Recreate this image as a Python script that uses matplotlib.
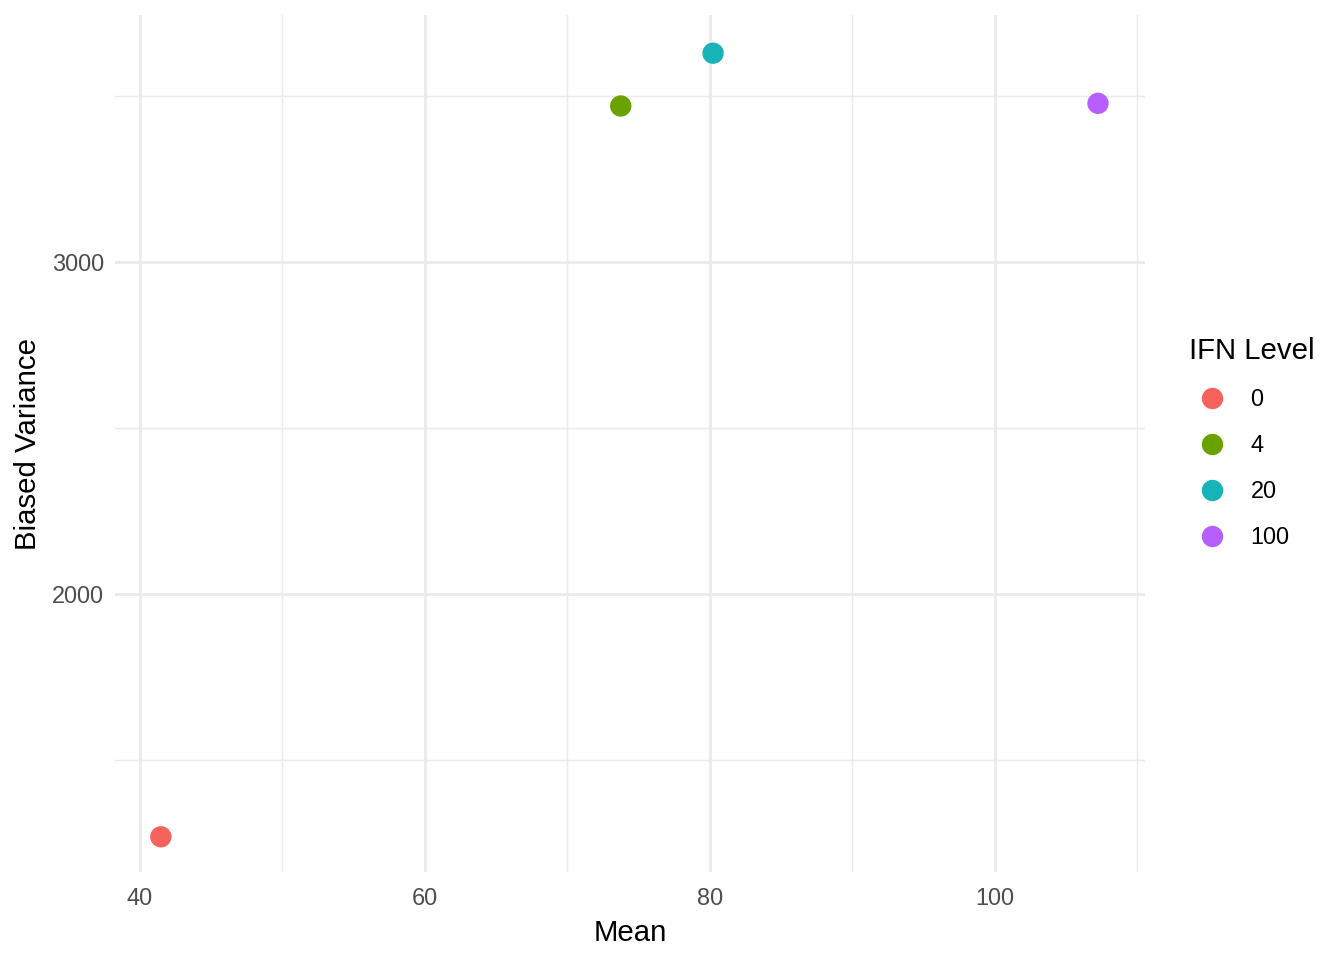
import matplotlib.pyplot as plt
from matplotlib.lines import Line2D

# Datos
niveles = ["0", "4", "20", "100"]
media = [41.47, 73.75, 80.23, 107.25]
varianza = [1269, 3470, 3629, 3478]
colores = ["#F6625C", "#6AA300", "#17B3B8", "#B65EFF"]

plt.rcParams['font.family'] = ['Liberation Sans', 'DejaVu Sans']

fig = plt.figure(figsize=(7, 5), dpi=192)
ax = fig.add_axes([115/1344, 1-872/960, (1145-115)/1344, (872-15)/960])

# Cuadricula estilo theme_minimal
ax.set_xlim(38.25, 110.55)
ax.set_ylim(1163, 3744)
ax.set_xticks([40, 60, 80, 100])
ax.set_xticks([50, 70, 90, 110], minor=True)
ax.set_yticks([2000, 3000])
ax.set_yticks([1500, 2500, 3500], minor=True)
ax.grid(which='major', color='#EBEBEB', linewidth=1.07)
ax.grid(which='minor', color='#EBEBEB', linewidth=0.53)
ax.set_axisbelow(True)
for s in ax.spines.values():
    s.set_visible(False)
ax.tick_params(which='both', length=0, labelsize=8.8, labelcolor='#4D4D4D')
ax.tick_params(axis='x', pad=5.5)
ax.tick_params(axis='y', pad=4)

for x, y, c in zip(media, varianza, colores):
    ax.scatter(x, y, s=64, color=c, edgecolors='none', zorder=3)

ax.set_xlabel("Mean", fontsize=11, labelpad=3.5)
ax.set_ylabel("Biased Variance", fontsize=11, labelpad=4)

# Leyenda
handles = [Line2D([], [], marker='o', linestyle='none', markersize=8,
                  markerfacecolor=c, markeredgecolor='none') for c in colores]
leg = fig.legend(handles, niveles, title="IFN Level", loc='upper left',
                 bbox_to_anchor=(1180/1344, 1-328/960), frameon=False,
                 fontsize=8.8, title_fontsize=11, labelspacing=0.98,
                 handletextpad=0.64, handlelength=1.96, borderaxespad=0)
leg._legend_box.align = "left"

fig.savefig("out.png", dpi=192)
